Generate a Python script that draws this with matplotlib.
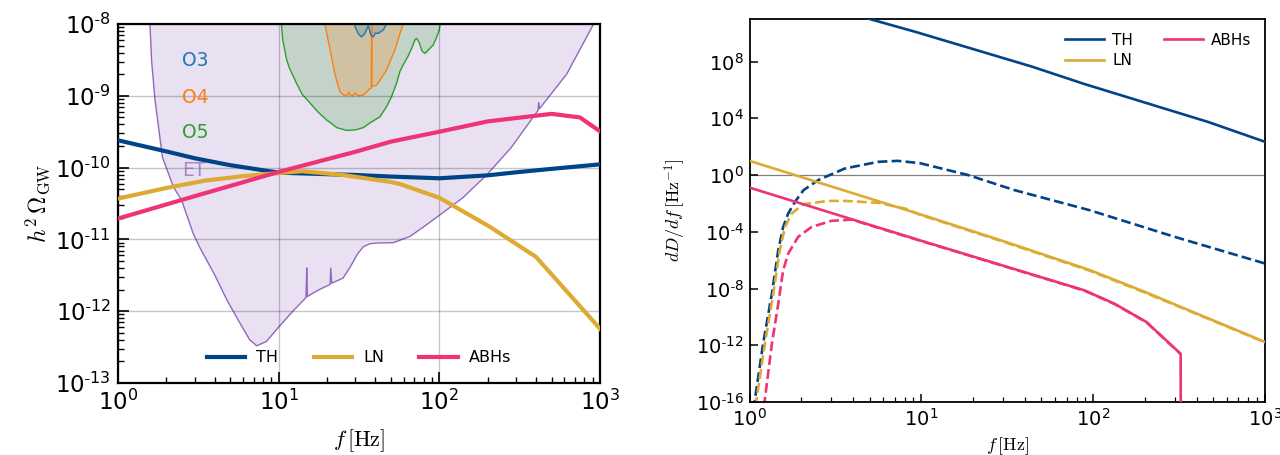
import numpy as np
import matplotlib
matplotlib.use("Agg")
import matplotlib.pyplot as plt
from matplotlib.ticker import LogLocator, NullFormatter, FuncFormatter

plt.rcParams['mathtext.fontset'] = 'cm'
plt.rcParams['axes.unicode_minus'] = False
plt.rcParams['font.family'] = ['DejaVu Sans']

# ---------------- colours ----------------
c_th = '#004488'
c_ln = '#DDAA33'
c_abh = '#EE3377'

# ---------------- left panel data ----------------
f_th_l = [1, 2, 3, 5, 10, 20, 30, 50, 100, 200, 300, 500, 1000]
om_th_l = [2.4e-10, 1.68e-10, 1.35e-10, 1.08e-10, 8.5e-11, 8.1e-11, 7.9e-11, 7.5e-11,
           7.1e-11, 7.8e-11, 8.6e-11, 9.6e-11, 1.11e-10]

f_ln_l = [1, 2, 3.5, 6, 10, 14, 25, 50, 57, 100, 206, 400, 1000]
om_ln_l = [3.7e-11, 5.2e-11, 6.6e-11, 7.6e-11, 8.4e-11, 8.9e-11, 7.9e-11, 6.3e-11, 5.9e-11,
           3.8e-11, 1.5e-11, 5.7e-12, 5.7e-13]

f_abh_l = [1, 3, 10, 30, 50, 100, 200, 300, 500, 750, 1000]
om_abh_l = [1.95e-11, 4.0e-11, 8.7e-11, 1.66e-10, 2.3e-10, 3.16e-10, 4.4e-10, 4.9e-10,
            5.6e-10, 5.0e-10, 3.2e-10]

f_et = [1.55, 1.58, 1.62, 1.70, 1.89, 2.21, 2.49, 2.94, 3.24, 4.0, 4.75, 5.6, 6.6, 7.3,
        8.4, 10, 12, 14.8, 14.95, 15.1, 17.5, 20.4, 20.9, 21.1, 21.4, 25.2, 28, 31, 33.6,
        37, 40.7, 51.7, 65.6, 80, 101, 140, 197, 280, 412, 415, 420, 620, 906, 1000]
om_et = [1e-7, 1e-8, 3e-9, 8.7e-10, 1.4e-10, 5.4e-11, 3.5e-11, 1.2e-11, 7.6e-12, 3.2e-12,
         1.45e-12, 7.5e-13, 4.0e-13, 3.3e-13, 3.8e-13, 6.0e-13, 9.5e-13, 1.55e-12, 4.0e-12,
         1.6e-12, 1.95e-12, 2.3e-12, 2.35e-12, 4.0e-12, 2.45e-12, 2.9e-12, 4.2e-12, 6.3e-12,
         7.9e-12, 8.7e-12, 8.9e-12, 9.0e-12, 1.1e-11, 1.5e-11, 2.2e-11, 3.8e-11, 7.9e-11,
         1.9e-10, 6.3e-10, 8e-10, 6.6e-10, 2e-9, 9.7e-9, 1.4e-8]

f_o5 = [10.2, 10.4, 10.6, 11.2, 11.7, 12.9, 14, 15.7, 17.5, 19.9, 22, 23, 26.5, 30, 33.6,
        37, 42.7, 47, 50.5, 54.2, 56.9, 59.6, 64, 67.3, 70.5, 72.2, 75, 78, 81.4, 85, 91.6,
        96, 100, 104]
om_o5 = [1.6e-8, 1e-8, 6e-9, 3.2e-9, 2.4e-9, 1.5e-9, 1.05e-9, 7.9e-10, 6e-10, 4.6e-10,
         3.9e-10, 3.6e-10, 3.3e-10, 3.35e-10, 3.6e-10, 4.2e-10, 5.1e-10, 7.1e-10, 9.8e-10,
         1.5e-9, 2.2e-9, 2.7e-9, 3.6e-9, 4.6e-9, 6.0e-9, 6.3e-9, 5.5e-9, 4.2e-9, 3.9e-9,
         4.3e-9, 5.1e-9, 6.5e-9, 8.3e-9, 1.6e-8]

f_o4 = [19.0, 19.4, 20.9, 22.4, 24.0, 25.0, 26.5, 27.5, 28, 29, 30, 31, 33.6, 37.0, 37.8,
        37.9, 38.0, 40.7, 47, 53, 56.9, 59.6, 61]
om_o4 = [1.6e-8, 1e-8, 4.4e-9, 2.0e-9, 1.15e-9, 1.05e-9, 1.0e-9, 1.12e-9, 1.0e-9, 1.0e-9,
         1.1e-9, 1.0e-9, 1.02e-9, 1.26e-9, 1.3e-9, 1e-7, 1.35e-9, 1.4e-9, 2.3e-9, 4.4e-9,
         7.4e-9, 1e-8, 1.6e-8]

f_o3 = [28.8, 29.5, 30.5, 31.5, 32.8, 34.4, 36.1, 37.5, 38.8, 40, 41.7, 44.8, 47, 48]
om_o3 = [1.6e-8, 1e-8, 8.3e-9, 7.2e-9, 6.6e-9, 7.4e-9, 9.5e-9, 7e-9, 6.6e-9, 7.5e-9,
         7.4e-9, 8.3e-9, 1e-8, 1.6e-8]

det_labels = ['O3', 'O4', 'O5', 'ET']
det_colors = ['tab:blue', 'tab:orange', 'tab:green', 'tab:purple']

# ---------------- right panel data ----------------
f_th_r = [4, 5, 9.2, 44, 89, 465, 1000]
d_th_r = [2.3e11, 1.0e11, 1.26e10, 4.4e7, 2.6e6, 5.6e3, 2.2e2]

f_th_rd = [1.05, 1.077, 1.20, 1.35, 1.47, 1.57, 1.68, 1.84, 2.06, 2.51, 3.59, 5.6, 7.3,
           9.8, 18.7, 35, 95.5, 298, 1000]
d_th_rd = [3e-18, 1.7e-16, 1.3e-12, 4.4e-9, 5.0e-6, 2.2e-4, 1.95e-3, 1.3e-2, 8.5e-2, 0.44,
           2.9, 8.5, 10.0, 6.9, 1.0, 8.5e-2, 3.3e-3, 4.4e-5, 5.8e-7]

f_ln_r = [1, 9.8, 30, 95.5, 200, 300, 1000]
d_ln_r = [10, 1.74e-3, 2.2e-5, 2.0e-7, 5.8e-9, 7.4e-10, 1.7e-12]

f_ln_rd = [1.07, 1.10, 1.23, 1.375, 1.50, 1.61, 1.76, 2.06, 2.87, 3.59, 5.6, 8.0, 9.8, 30,
           95.5, 200, 300, 1000]
d_ln_rd = [5e-18, 1.7e-16, 1.3e-12, 4.4e-9, 5.0e-6, 2.2e-4, 1.95e-3, 8.7e-3, 1.5e-2,
           1.5e-2, 1.1e-2, 4.4e-3, 1.6e-3, 2.0e-5, 1.8e-7, 5.2e-9, 6.8e-10, 1.6e-12]

f_abh_r = [1, 9.8, 89, 133, 204, 323, 323.5]
d_abh_r = [0.13, 2.5e-5, 7.4e-9, 8.5e-10, 4.4e-11, 2.5e-13, 1e-20]

f_abh_rd = [1.18, 1.23, 1.35, 1.47, 1.57, 1.68, 1.92, 2.30, 3.0, 3.93, 9.8, 89, 133, 204, 323]
d_abh_rd = [5e-18, 1.7e-16, 1.3e-12, 8.5e-10, 1.95e-7, 2.9e-6, 4.4e-5, 2.2e-4, 5.9e-4,
            7.2e-4, 2.4e-5, 7.1e-9, 8.1e-10, 4.2e-11, 2.4e-13]

series_labels = ['TH', 'LN', 'ABHs']


def pow10_fmt(v, pos):
    if v <= 0:
        return ''
    e = int(round(np.log10(v)))
    if e < 0:
        return r'$\mathdefault{10^{\text{-}%d}}$' % (-e)
    return r'$\mathdefault{10^{%d}}$' % e


# ---------------- figure ----------------
fig = plt.figure(figsize=(12.8, 4.55), dpi=100)
axL = fig.add_axes([118/1280, 1 - 383/455, 482/1280, 359/455])
axR = fig.add_axes([749.5/1280, 1 - 402/455, 515.5/1280, 383/455])

# ---- left ----
TOP = 1e-5
for f, om, col in [(f_et, om_et, det_colors[3]), (f_o5, om_o5, det_colors[2]),
                   (f_o4, om_o4, det_colors[1]), (f_o3, om_o3, det_colors[0])]:
    axL.fill_between(f, om, TOP, color=col, alpha=0.2, lw=0, zorder=1)
    axL.plot(f, om, color=col, lw=1.0, zorder=1.2)

axL.plot(f_th_l, om_th_l, color=c_th, lw=3, label=series_labels[0], zorder=3)
axL.plot(f_ln_l, om_ln_l, color=c_ln, lw=3, label=series_labels[1], zorder=3)
axL.plot(f_abh_l, om_abh_l, color=c_abh, lw=3, label=series_labels[2], zorder=3)

txt_y = [0.897, 0.794, 0.697, 0.593]
for lab, col, yy in zip(det_labels, det_colors, txt_y):
    axL.text(0.133, yy, lab, color=col, fontsize=13.5, transform=axL.transAxes,
             va='center', ha='left', alpha=0.75 if lab == 'ET' else 1.0, zorder=2)

axL.set_xscale('log')
axL.set_yscale('log')
axL.set_xlim(1, 1e3)
axL.set_ylim(1e-13, 1e-8)
axL.grid(True, which='major', color='black', alpha=0.22, lw=1)
axL.tick_params(which='both', direction='in', top=False, right=False)
axL.tick_params(which='major', length=8, width=1.2, labelsize=16.5, pad=5)
axL.tick_params(which='minor', length=4, width=1.0)
axL.yaxis.set_minor_locator(LogLocator(base=10, subs=np.arange(2, 10), numticks=20))
axL.yaxis.set_minor_formatter(NullFormatter())
axL.xaxis.set_major_formatter(FuncFormatter(pow10_fmt))
axL.yaxis.set_major_formatter(FuncFormatter(pow10_fmt))
for s in axL.spines.values():
    s.set_linewidth(1.6)
axL.set_xlabel(r'$f\,[{\rm Hz}]$', fontsize=16, labelpad=9)
axL.set_ylabel(r'$h^2\,\Omega_{\rm GW}$', fontsize=17, labelpad=2)
axL.legend(loc='center', bbox_to_anchor=(0.5, 0.07), ncol=3, frameon=False,
           fontsize=11.5, handlelength=2.4, handletextpad=0.7, columnspacing=2.2)

# ---- right ----
axR.axhline(1.0, color='gray', lw=0.9, zorder=1)
axR.plot(f_th_rd, d_th_rd, color=c_th, lw=1.9, ls='--', zorder=2)
axR.plot(f_ln_rd, d_ln_rd, color=c_ln, lw=1.9, ls='--', zorder=2)
axR.plot(f_abh_rd, d_abh_rd, color=c_abh, lw=1.9, ls='--', zorder=2)
axR.plot(f_th_r, d_th_r, color=c_th, lw=1.9, label=series_labels[0], zorder=3)
axR.plot(f_ln_r, d_ln_r, color=c_ln, lw=1.9, label=series_labels[1], zorder=3)
axR.plot(f_abh_r, d_abh_r, color=c_abh, lw=1.9, label=series_labels[2], zorder=3)

axR.set_xscale('log')
axR.set_yscale('log')
axR.set_xlim(1, 1e3)
axR.set_ylim(1e-16, 1e11)
axR.set_yticks([1e-16, 1e-12, 1e-8, 1e-4, 1e0, 1e4, 1e8])
axR.yaxis.set_minor_locator(plt.NullLocator())
axR.xaxis.set_major_formatter(FuncFormatter(pow10_fmt))
axR.yaxis.set_major_formatter(FuncFormatter(pow10_fmt))
axR.tick_params(which='both', direction='in', top=False, right=False)
axR.tick_params(which='major', length=6, width=1.1, labelsize=14, pad=4)
axR.tick_params(which='minor', length=3.5, width=0.9)
for s in axR.spines.values():
    s.set_linewidth(1.3)
axR.set_xlabel(r'$f\,[{\rm Hz}]$', fontsize=13, labelpad=4)
axR.set_ylabel(r'$dD/df\,[{\rm Hz}^{-1}]$', fontsize=13, labelpad=6)
axR.legend(loc='upper right', bbox_to_anchor=(1.0, 1.0), ncol=2, frameon=False,
           fontsize=11, handlelength=2.6, handletextpad=0.5, columnspacing=2.0,
           labelspacing=0.35)

fig.savefig('out.png', dpi=100)
